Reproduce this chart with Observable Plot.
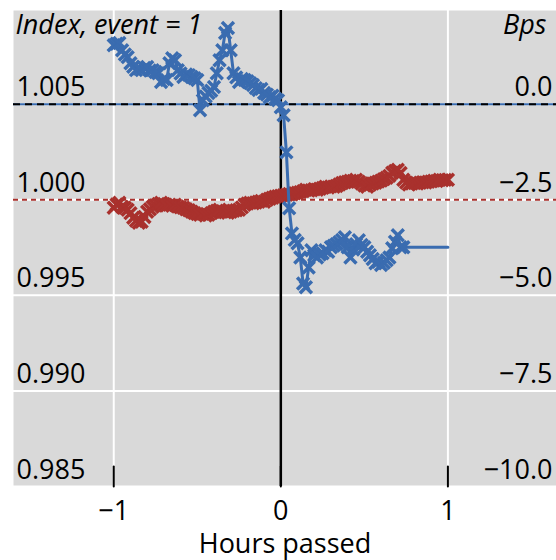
<!DOCTYPE html>
<html>
<head>
<meta charset="utf-8">
<script src="https://cdn.jsdelivr.net/npm/d3@7"></script>
<script src="https://cdn.jsdelivr.net/npm/@observablehq/plot@0.6"></script>
<style>
  body { margin: 0; background: #fff; }
  #chart svg { display: block; }
</style>
</head>
<body>
<div id="chart"></div>
<script>
// Minutes relative to the event, and the two series observed around it.
const blueMinutes = [-60,-59,-58,-57,-56,-55,-54,-53,-52,-51,-50,-49,-48,-47,-46,-45,-44,-43,-42,-41,
  -40,-39,-38,-37,-36,-35,-34,-33,-32,-31,-30,-29,-28,-27,-26,-25,-24,-23,-22,-21,
  -20,-19,-18,-17,-16,-15,-14,-13,-12,-11,-10,-9,-8,-7,-6,-5,-4,-3,-2,-1,
  0,1,2,3,4,5,6,7,8,9,10,11,12,13,14,15,16,17,18,19,20,21,22,23,24,25,26,27,28,29,
  30,31,32,33,34,35,36,37,38,39,40,41,42,43,44];
// Spread in basis points (right axis)
const blueBps = [1.54,1.58,1.60,1.41,1.30,1.23,1.07,0.98,0.89,0.93,0.89,0.95,0.97,0.88,0.89,0.84,0.81,0.58,0.66,0.63,
  1.07,1.20,1.15,0.89,0.80,0.71,0.78,0.76,0.71,0.68,0.63,-0.16,0.10,0.20,0.29,0.35,0.45,0.81,1.15,1.41,
  1.86,1.99,1.41,0.81,0.70,0.58,0.66,0.63,0.60,0.55,0.50,0.42,0.37,0.40,0.29,0.25,0.18,0.22,0.14,0.10,
  -0.08,-0.29,-1.26,-2.72,-3.38,-3.55,-3.64,-4.01,-4.69,-4.79,-4.27,-3.82,-3.95,-4.01,-3.93,-3.90,-3.82,-3.86,-3.74,-3.70,
  -3.66,-3.61,-3.55,-3.48,-3.74,-4.01,-3.80,-3.66,-3.56,-3.68,
  -3.74,-3.86,-3.95,-4.05,-4.16,-4.12,-4.21,-4.15,-4.08,-4.01,-3.77,-3.60,-3.43,-3.74,-3.74];
// Last quote is carried forward to the end of the window
const blueHoldUntil = 60;

const redMinutes = d3.range(-60, 61);
// Price index, event = 1 (left axis)
const redIndex = [0.99958,0.99975,0.99984,0.99963,0.99958,0.99948,0.99930,0.99906,0.99890,0.99880,
  0.99885,0.99910,0.99937,0.99950,0.99963,0.99970,0.99978,0.99984,0.99978,0.99970,
  0.99974,0.99968,0.99974,0.99965,0.99960,0.99958,0.99950,0.99945,0.99937,0.99930,
  0.99925,0.99921,0.99926,0.99918,0.99921,0.99930,0.99937,0.99942,0.99948,0.99940,
  0.99935,0.99932,0.99937,0.99942,0.99945,0.99948,0.99960,0.99974,0.99980,0.99984,
  0.99982,0.99986,0.99990,0.99994,0.99990,1.00000,1.00005,1.00010,1.00016,1.00018,
  1.00021,1.00024,1.00026,1.00030,1.00028,1.00034,1.00037,1.00040,1.00045,1.00052,
  1.00048,1.00050,1.00055,1.00052,1.00058,1.00062,1.00068,1.00064,1.00070,1.00068,
  1.00072,1.00080,1.00088,1.00092,1.00094,1.00100,1.00098,1.00105,1.00095,1.00085,
  1.00075,1.00068,1.00078,1.00085,1.00089,1.00095,1.00100,1.00108,1.00115,1.00125,
  1.00141,1.00150,1.00157,1.00140,1.00105,1.00090,1.00079,1.00085,1.00088,1.00085,
  1.00089,1.00092,1.00090,1.00094,1.00096,1.00100,1.00098,1.00105,1.00102,1.00104,1.00105];

const hourTicks = [-1, 0, 1];
const indexTicks = [1.005, 1.000, 0.995, 0.990, 0.985];
const bpsTicks = [0, -2.5, -5, -7.5, -10];

const blue = "#3a6cb0";
const red = "#a9312d";
const font = "'Open Sans', sans-serif";

// Basis points share the frame with the index: 0 bp sits at 1.005, 2.5 bp per 0.005.
const bpsToIndex = b => 1.005 + b / 500;
const minus = s => s.replace("-", "\u2212");

const bluePts = blueMinutes.map((m, i) => ({h: m / 60, y: bpsToIndex(blueBps[i])}));
const blueLine = [...bluePts, {h: blueHoldUntil / 60, y: bpsToIndex(blueBps[blueBps.length - 1])}];
const redPts = redMinutes.map((m, i) => ({h: m / 60, y: redIndex[i]}));

// a plain upright stroke, used for the inward x ticks
const stem = {draw(context, l) { context.moveTo(0, 0); context.lineTo(0, -l); }};

const chart = Plot.plot({
  width: 556,
  height: 560,
  marginLeft: 13,
  marginRight: 0,
  marginTop: 10,
  marginBottom: 74,
  style: {fontFamily: font, fontSize: "27px", color: "black", background: "white", overflow: "visible"},
  x: {domain: [-1.6, 1.65]},
  y: {domain: [0.985, 1.0099], axis: null},
  marks: [
    Plot.frame({fill: "#d9d9d9", stroke: null}),
    Plot.gridY(indexTicks, {stroke: "white", strokeOpacity: 1, strokeWidth: 2}),
    Plot.gridX(hourTicks, {stroke: "white", strokeOpacity: 1, strokeWidth: 2}),
    Plot.ruleY([bpsToIndex(0)], {stroke: blue, strokeWidth: 2}),
    Plot.ruleY([bpsToIndex(0)], {stroke: "black", strokeWidth: 2, strokeDasharray: "7,5"}),
    Plot.ruleY([1.000], {stroke: red, strokeWidth: 2, strokeDasharray: "5,4"}),
    Plot.ruleX([0], {stroke: "black", strokeWidth: 2.5}),
    Plot.vector(hourTicks, {
      x: d => d, frameAnchor: "bottom", length: 20, anchor: "start", shape: stem,
      stroke: "black", strokeWidth: 2
    }),
    Plot.axisX(hourTicks, {
      tickSize: 0, tickPadding: 14, fontSize: 27,
      tickFormat: d => minus(String(d)), label: null
    }),
    Plot.line(redPts, {x: "h", y: "y", stroke: red, strokeWidth: 3}),
    Plot.dot(redPts, {x: "h", y: "y", symbol: "times", r: 5.5, stroke: red, strokeWidth: 3.5}),
    Plot.line(blueLine, {x: "h", y: "y", stroke: blue, strokeWidth: 3}),
    Plot.dot(bluePts, {x: "h", y: "y", symbol: "times", r: 5.5, stroke: blue, strokeWidth: 3.5}),
    // left (index) and right (bps) tick labels, sitting just above their gridlines
    Plot.text(indexTicks, {
      y: d => d, text: d => d.toFixed(3), frameAnchor: "left", textAnchor: "start",
      lineAnchor: "bottom", dx: 3, dy: -8, fontSize: 27, fill: "black"
    }),
    Plot.text(bpsTicks, {
      y: bpsToIndex, text: d => minus(d.toFixed(1)), frameAnchor: "right", textAnchor: "end",
      lineAnchor: "bottom", dx: -4, dy: -8, fontSize: 27, fill: "black"
    }),
    Plot.text(["Index, event = 1"], {
      text: d => d, frameAnchor: "top-left", textAnchor: "start", lineAnchor: "bottom",
      dx: 2, dy: 23, fontStyle: "italic", fontSize: 27, fill: "black"
    }),
    Plot.text(["Bps"], {
      text: d => d, frameAnchor: "top-right", textAnchor: "end", lineAnchor: "bottom",
      dx: -10, dy: 23, fontStyle: "italic", fontSize: 27, fill: "black"
    }),
    Plot.text(["Hours passed"], {
      text: d => d, frameAnchor: "bottom", textAnchor: "middle", lineAnchor: "bottom",
      dy: 66, fontSize: 27, fill: "black"
    })
  ]
});

document.getElementById("chart").appendChild(chart);
</script>
</body>
</html>
